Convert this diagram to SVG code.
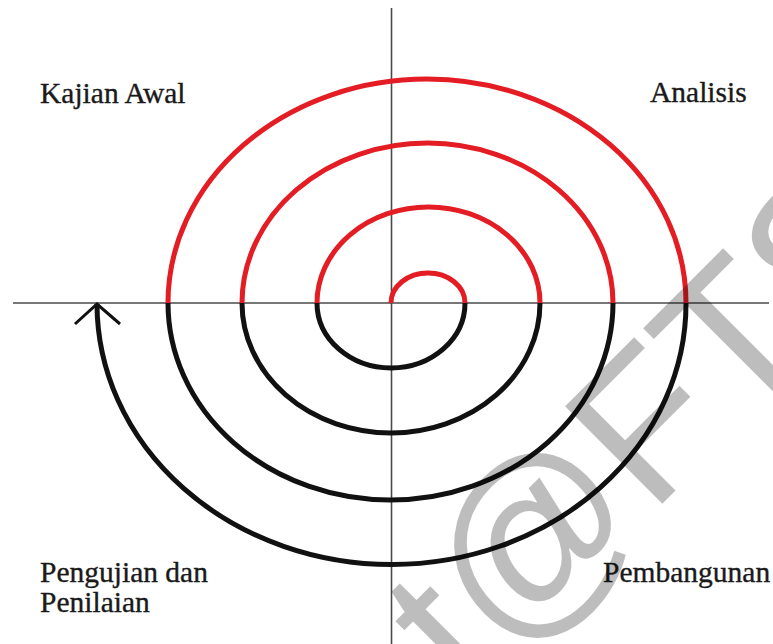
<svg xmlns="http://www.w3.org/2000/svg" width="773" height="644" viewBox="0 0 773 644">
<style>
.ax{stroke:#4a4a4a;stroke-width:1.6;fill:none}
.r{stroke:#e31d23;stroke-width:5;fill:none}
.k{stroke:#111;stroke-width:5;fill:none}
.lbl{font-family:"Liberation Serif","Times New Roman",serif;font-size:29.5px;fill:#1a1a1a;stroke:#1a1a1a;stroke-width:0.35}
.wm{font-family:"Liberation Sans",Arial,sans-serif;font-size:200px;fill:#000;fill-opacity:0.26}
</style>
<rect width="773" height="644" fill="#ffffff"/>
<g id="axes">
<line class="ax" x1="391.5" y1="8" x2="391.5" y2="644"/>
<line class="ax" x1="13" y1="303" x2="769" y2="303"/>
</g>
<g id="connectors">
<path class="r" d="M391,303 A37,30 0 0 1 465,303"/>
<path class="k" d="M465,303 A74,65 0 0 1 317,303"/>
<path class="r" d="M317,303 A111.5,96 0 0 1 540,303"/>
<path class="k" d="M540,303 A149,130 0 0 1 242,303"/>
<path class="r" d="M242,303 A185.5,160 0 0 1 613,303"/>
<path class="k" d="M613,303 A222.5,197 0 0 1 168,303"/>
<path class="r" d="M168,303 A259,224 0 0 1 686,303"/>
<path class="k" d="M686,303 A294.5,261 0 0 1 97,304"/>
<path d="M75,324 L97,304 L120,324" fill="none" stroke="#111" stroke-width="3"/>
</g>
<g id="kajian-awal"><text class="lbl" x="40" y="103">Kajian Awal</text></g>
<g id="analisis"><text class="lbl" x="650" y="102">Analisis</text></g>
<g id="pengujian"><text class="lbl" x="40" y="582">Pengujian dan</text><text class="lbl" x="40" y="612">Penilaian</text></g>
<g id="pembangunan"><text class="lbl" x="603" y="582">Pembangunan</text></g>
<g id="watermark"><text class="wm" transform="translate(468,698) rotate(-45)">t@FTS</text></g>
</svg>
